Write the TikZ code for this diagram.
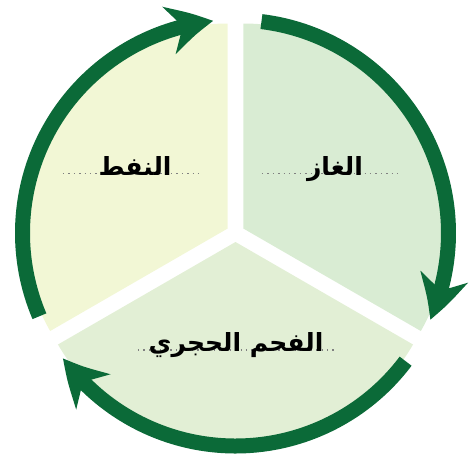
\documentclass[tikz,border=0pt]{standalone}
\usepackage{fontspec}
\usetikzlibrary{arrows.meta, bending, calc}
\TeXXeTstate=1
\newfontfamily\arabicfont[Script=Arabic]{DejaVu Sans}
\definecolor{cycgreen}{RGB}{11,106,56}
\definecolor{oilfill}{RGB}{242,247,213}
\definecolor{gasfill}{RGB}{217,236,211}
\definecolor{coalfill}{RGB}{226,239,213}

\begin{document}
\begin{tikzpicture}[
    x=1pt, y=1pt,
    fuelname/.style={font=\arabicfont\bfseries\fontsize{25}{30}\selectfont, inner sep=0pt, anchor=base},
    dotline/.style={draw=gray, line width=1.4pt, dash pattern=on 1.4pt off 4pt},
    cycarrow/.style={draw=cycgreen, line width=15pt, -{Stealth[length=45pt, width=48pt, inset=14pt, bend]}}
]
    \useasboundingbox (-235.5,-223) rectangle (236.5,233);
    % sectors
    \fill[oilfill] (150:9) -- +(90:205) arc[start angle=90, end angle=210, radius=205] -- cycle;
    \fill[gasfill] (30:9) -- +(-30:205) arc[start angle=-30, end angle=90, radius=205] -- cycle;
    \fill[coalfill] (270:9) -- +(210:205) arc[start angle=210, end angle=330, radius=205] -- cycle;
    % cycle arrows
    \draw[cycarrow] (203:213) arc[start angle=203, end angle=96, radius=213];
    \draw[cycarrow] (83:213) arc[start angle=83, end angle=-24, radius=213];
    \draw[cycarrow] (-37:213) arc[start angle=-37, end angle=-144, radius=213];
    % labels
    \coordinate (oilpos) at (-100.5,58);
    \coordinate (gaspos) at (99.5,58);
    \coordinate (coalpos) at (0.5,-118.5);
    \draw[dotline] ($(oilpos)+(-72,1.5)$) -- ($(oilpos)+(67,1.5)$);
    \draw[dotline] ($(gaspos)+(-73,1.5)$) -- ($(gaspos)+(67,1.5)$);
    \draw[dotline] ($(coalpos)+(-98,1.5)$) -- ($(coalpos)+(99,1.5)$);
    \node[fuelname] (oil) at (oilpos) {\beginR النفط\endR};
    \node[fuelname] (gas) at (gaspos) {\beginR الغاز\endR};
    \node[fuelname] (coal) at (coalpos) {\beginR الفحم الحجري\endR};
\end{tikzpicture}
\end{document}
